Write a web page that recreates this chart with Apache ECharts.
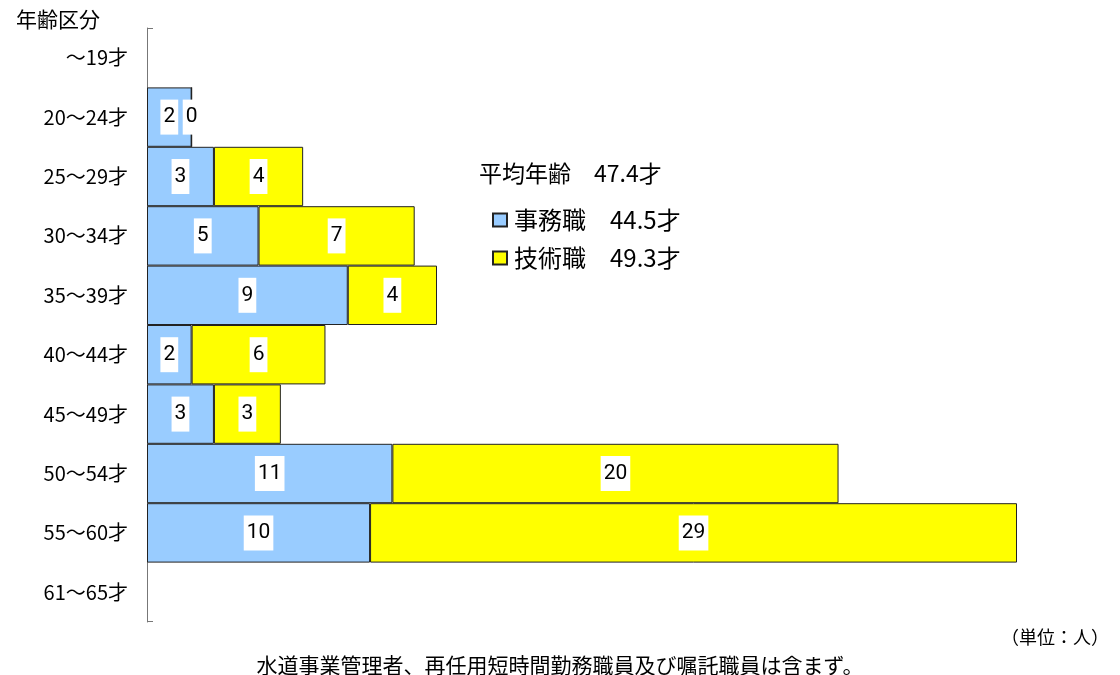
<!DOCTYPE html>
<html><head><meta charset="utf-8">
<script src="https://cdn.jsdelivr.net/npm/echarts@6/dist/echarts.min.js"></script>
<style>html,body{margin:0;padding:0;background:#fff}#c{width:1120px;height:675px}</style>
</head><body><div id="c"></div>
<script>
const categories = ['～19才','20～24才','25～29才','30～34才','35～39才','40～44才','45～49才','50～54才','55～60才','61～65才'];
const officeValues = ['-',2,3,5,9,2,3,11,10,'-'];
const techValues = ['-',0,4,7,4,6,3,20,29,'-'];
const seriesNames = ['事務職','技術職'];
const avgAges = {'事務職':'44.5才','技術職':'49.3才'};
const overallAvg = '47.4才';

const font = '"Noto Sans CJK JP", "Noto Sans", sans-serif';
const chart = echarts.init(document.getElementById('c'));
const labelCfg = {
  show: true, position: 'inside', color: '#000', fontSize: 21,
  fontFamily: 'Roboto, "Liberation Sans", sans-serif',
  backgroundColor: '#fff', padding: [7, 3]
};
chart.setOption({
  animation: false,
  textStyle: { fontFamily: font },
  grid: { left: 147, top: 28, height: 594, width: 870 },
  xAxis: { type: 'value', min: 0, max: 39, show: false },
  yAxis: {
    type: 'category', data: categories, inverse: true,
    axisLine: { show: true, lineStyle: { color: '#777', width: 1 } },
    axisTick: { show: false },
    axisLabel: { color: '#000', fontSize: 20, margin: 19, fontFamily: font }
  },
  legend: {
    orient: 'vertical', left: 487, top: 203, itemWidth: 14, itemHeight: 13, itemGap: 14,
    icon: 'rect',
    formatter: n => n + '　' + avgAges[n],
    textStyle: { fontSize: 24, color: '#000', fontFamily: font, padding: [0, 0, 0, 2] }
  },
  title: [
    { text: '年齢区分', left: 11, top: 4, textStyle: { fontSize: 21, fontWeight: 'normal', color: '#000', fontFamily: font } },
    { text: '平均年齢　' + overallAvg, left: 474, top: 157, textStyle: { fontSize: 23, fontWeight: 'normal', color: '#000', fontFamily: font } },
    { text: '（単位：人）', right: 6, top: 623, textStyle: { fontSize: 18, fontWeight: 'normal', color: '#000', fontFamily: font } },
    { text: '水道事業管理者、再任用短時間勤務職員及び嘱託職員は含まず。', left: 'center', top: 650, textStyle: { fontSize: 21, fontWeight: 'normal', color: '#000', fontFamily: font } }
  ],
  graphic: [
    { type: 'line', shape: { x1: 147, y1: 28.5, x2: 153, y2: 28.5 }, style: { stroke: '#777', lineWidth: 1 } },
    { type: 'line', shape: { x1: 147, y1: 621.5, x2: 153, y2: 621.5 }, style: { stroke: '#777', lineWidth: 1 } }
  ],
  series: [
    { name: seriesNames[0], type: 'bar', stack: 's', data: officeValues, barCategoryGap: 0,
      itemStyle: { color: '#99ccff', borderColor: '#222', borderWidth: 1 }, label: labelCfg },
    { name: seriesNames[1], type: 'bar', stack: 's', data: techValues, barCategoryGap: 0,
      itemStyle: { color: '#ffff00', borderColor: '#222', borderWidth: 1 }, label: labelCfg }
  ]
});
</script></body></html>
